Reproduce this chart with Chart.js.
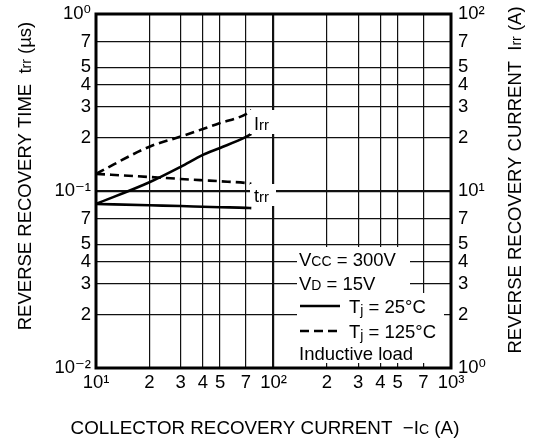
<!DOCTYPE html>
<html>
<head>
<meta charset="utf-8">
<script src="https://cdn.jsdelivr.net/npm/chart.js@4"></script>
<style>
  body { margin: 0; background: #fff; }
</style>
</head>
<body>
<canvas id="grafico" width="535" height="444"></canvas>
<script>
// dados
const correnteIc = [10, 20, 30, 40, 50, 70, 75];
const irr25 = [8.45, 11.2, 13.7, 16.0, 17.5, 20.2, 21.0];
const irr125 = [12.5, 17.8, 20.3, 22.4, 24.2, 27.2, 28.7];
const trr25 = [0.0845, 0.083, 0.0822, 0.0815, 0.081, 0.0803, 0.080];
const trr125 = [0.125, 0.12, 0.117, 0.115, 0.1135, 0.111, 0.11];

const xTicks = [10, 20, 30, 40, 50, 70, 100, 200, 300, 400, 500, 700, 1000];
const xLabels = ["10¹", "2", "3", "4", "5", "7", "10²", "2", "3", "4", "5", "7", "10³"];
const yTicks = [0.01, 0.02, 0.03, 0.04, 0.05, 0.07, 0.1, 0.2, 0.3, 0.4, 0.5, 0.7, 1];
const yLabels = ["10⁻²", "2", "3", "4", "5", "7", "10⁻¹", "2", "3", "4", "5", "7", "10⁰"];
const y2Ticks = [1, 2, 3, 4, 5, 7, 10, 20, 30, 40, 50, 70, 100];
const y2Labels = ["10⁰", "2", "3", "4", "5", "7", "10¹", "2", "3", "4", "5", "7", "10²"];

const fonte = "'Liberation Sans', Arial, 'DejaVu Sans', sans-serif";

function pontos(valores) {
  return correnteIc.map((x, i) => ({ x: x, y: valores[i] }));
}

function serie(valores, eixo, tracejado) {
  return {
    data: pontos(valores),
    yAxisID: eixo,
    borderColor: "#000",
    borderWidth: 2.6,
    borderDash: tracejado ? [9, 5] : [],
    pointRadius: 0,
    cubicInterpolationMode: "monotone",
    fill: false,
  };
}

// texto com partes pequenas (subscritos)
function textoMisto(ctx, partes, x, y, align) {
  let total = 0;
  partes.forEach((p) => {
    ctx.font = p[1] + "px " + fonte;
    total += ctx.measureText(p[0]).width;
  });
  let cx = align === "center" ? x - total / 2 : x;
  partes.forEach((p) => {
    ctx.font = p[1] + "px " + fonte;
    ctx.fillText(p[0], cx, y + (p[2] || 0));
    cx += ctx.measureText(p[0]).width;
  });
  return total;
}

function caixaBranca(ctx, x1, y1, x2, y2) {
  ctx.fillStyle = "#fff";
  ctx.fillRect(x1, y1, x2 - x1, y2 - y1);
}

const extras = {
  id: "extras",
  afterDatasetsDraw(chart) {
    const ctx = chart.ctx;
    const a = chart.chartArea;
    ctx.save();
    ctx.textBaseline = "alphabetic";
    ctx.textAlign = "left";

    // rotulos das curvas
    caixaBranca(ctx, 250, 110, 276, 134);
    caixaBranca(ctx, 250, 184, 276, 206);
    ctx.fillStyle = "#000";
    textoMisto(ctx, [["I", 18], ["rr", 15]], 254, 130, "left");
    textoMisto(ctx, [["t", 18], ["rr", 15]], 254, 202, "left");

    // legenda
    caixaBranca(ctx, 297, 247, 410, 270);
    caixaBranca(ctx, 297, 270, 410, 293);
    caixaBranca(ctx, 297, 293, a.right - 7, 363);
    ctx.fillStyle = "#000";
    textoMisto(ctx, [["V", 18.5], ["CC", 14], [" = 300V", 18.5]], 299, 266, "left");
    textoMisto(ctx, [["V", 18.5], ["D", 14], [" = 15V", 18.5]], 299, 290, "left");
    textoMisto(ctx, [["T", 18.5], ["j", 14, 2], [" = 25°C", 18.5]], 349, 313, "left");
    textoMisto(ctx, [["T", 18.5], ["j", 14, 2], [" = 125°C", 18.5]], 349, 338, "left");
    textoMisto(ctx, [["Inductive load", 18.5]], 299, 360, "left");
    ctx.strokeStyle = "#000";
    ctx.lineWidth = 2.6;
    ctx.beginPath();
    ctx.moveTo(300, 306);
    ctx.lineTo(340, 306);
    ctx.stroke();
    ctx.setLineDash([9, 5]);
    ctx.beginPath();
    ctx.moveTo(300, 331);
    ctx.lineTo(340, 331);
    ctx.stroke();
    ctx.setLineDash([]);

    // moldura
    ctx.lineWidth = 3;
    ctx.strokeRect(a.left, a.top, a.right - a.left, a.bottom - a.top);

    // titulos dos eixos
    ctx.fillStyle = "#000";
    textoMisto(ctx, [["COLLECTOR RECOVERY CURRENT  \u2212I", 18.8], ["C", 14], [" (A)", 18.8]], 265, 434, "center");

    ctx.save();
    ctx.translate(31, 176);
    ctx.rotate(-Math.PI / 2);
    textoMisto(ctx, [["REVERSE RECOVERY TIME  t", 18.5], ["rr", 14], [" (\u00b5s)", 18.5]], 0, 0, "center");
    ctx.restore();

    ctx.save();
    ctx.translate(521, 180);
    ctx.rotate(-Math.PI / 2);
    textoMisto(ctx, [["REVERSE RECOVERY CURRENT  I", 18.5], ["rr", 14], [" (A)", 18.5]], 0, 0, "center");
    ctx.restore();

    ctx.restore();
  },
};

function fixarTicks(valores) {
  return (scale) => {
    scale.ticks = valores.map((v) => ({ value: v }));
  };
}

function semPadding(s) {
  s.paddingTop = 0;
  s.paddingBottom = 0;
  s.paddingLeft = 0;
  s.paddingRight = 0;
}

const fonteTick = { family: fonte, size: 18.5 };

const grafico = document.querySelector("#grafico");
const myGrafico = new Chart(grafico, {
  type: "line",
  data: {
    datasets: [
      serie(irr25, "y2", false),
      serie(irr125, "y2", true),
      serie(trr25, "y", false),
      serie(trr125, "y", true),
    ],
  },
  options: {
    responsive: false,
    animation: false,
    layout: { padding: { top: 14, left: 0, right: 0, bottom: 0 } },
    plugins: { legend: { display: false }, tooltip: { enabled: false } },
    scales: {
      x: {
        type: "logarithmic",
        min: 10,
        max: 1000,
        afterBuildTicks: fixarTicks(xTicks),
        afterFit: (s) => { s.height = 76; semPadding(s); },
        border: { display: false },
        grid: {
          color: "#111",
          lineWidth: (c) => (c.tick && c.tick.value === 100 ? 2.2 : 1.2),
          drawTicks: false,
        },
        ticks: {
          autoSkip: false,
          maxRotation: 0,
          padding: 4,
          color: "#000",
          font: fonteTick,
          callback: (v, i) => xLabels[i],
        },
      },
      y: {
        type: "logarithmic",
        position: "left",
        min: 0.01,
        max: 1,
        afterBuildTicks: fixarTicks(yTicks),
        afterFit: (s) => { s.width = 96; semPadding(s); },
        border: { display: false },
        grid: {
          color: "#111",
          lineWidth: (c) => (c.tick && c.tick.value === 0.1 ? 2.2 : 1.2),
          drawTicks: false,
        },
        ticks: {
          autoSkip: false,
          padding: 5,
          color: "#000",
          font: fonteTick,
          callback: (v, i) => yLabels[i],
        },
      },
      y2: {
        type: "logarithmic",
        position: "right",
        min: 1,
        max: 100,
        afterBuildTicks: fixarTicks(y2Ticks),
        afterFit: (s) => { s.width = 84; semPadding(s); },
        border: { display: false },
        grid: { display: false, drawTicks: false },
        ticks: {
          autoSkip: false,
          padding: 7,
          color: "#000",
          font: fonteTick,
          callback: (v, i) => y2Labels[i],
        },
      },
    },
  },
  plugins: [extras],
});
</script>
</body>
</html>
